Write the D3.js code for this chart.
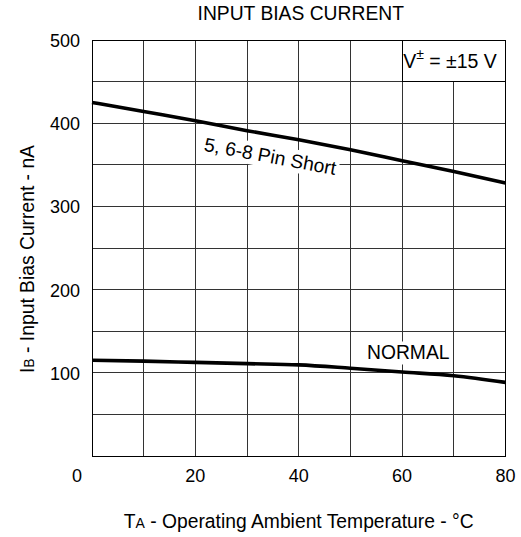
<!DOCTYPE html>
<html>
<head>
<meta charset="utf-8">
<script src="https://cdn.jsdelivr.net/npm/d3@7"></script>
<style>
  body { margin: 0; background: #fff; }
  svg { display: block; font-family: "Liberation Sans", Arial, sans-serif; }
</style>
</head>
<body>
<svg id="chart" width="521" height="537"></svg>
<script>
const temps = [0, 10, 20, 30, 40, 50, 60, 70, 80]
const pinShort = [425, 414, 403, 391, 380, 368, 355, 342, 328]
const normal = [115, 114, 112.5, 111, 109.5, 105.5, 101, 96.5, 88.5]
const xTicks = [20, 40, 60, 80]
const yTicks = [0, 100, 200, 300, 400, 500]

function drawChart(){
  const svg = d3.select("#chart")
  const width = 521
  const margin = {top: 40, right: 15.5, bottom: 81, left: 92}
  const height = 537

  const x = d3.scaleLinear()
    .domain([0, 80])
    .range([margin.left, width - margin.right])

  const y = d3.scaleLinear()
    .domain([0, 500])
    .range([height - margin.bottom, margin.top])

  // grid
  const grid = svg.append("g")
    .attr("stroke", "#333")
    .attr("stroke-width", 1)
    .attr("shape-rendering", "crispEdges")

  grid.selectAll("line.v")
    .data(d3.range(10, 80, 10))
    .join("line")
    .attr("x1", d => x(d)).attr("x2", d => x(d))
    .attr("y1", y(0)).attr("y2", y(500))

  grid.selectAll("line.h")
    .data(d3.range(50, 500, 50))
    .join("line")
    .attr("x1", x(0)).attr("x2", x(80))
    .attr("y1", d => y(d)).attr("y2", d => y(d))

  // condition box in top right cell
  svg.append("rect")
    .attr("x", x(60)).attr("y", y(500))
    .attr("width", x(80) - x(60)).attr("height", y(450) - y(500))
    .attr("fill", "#fff").attr("stroke", "#000")
    .attr("shape-rendering", "crispEdges")

  const cond = svg.append("text")
    .attr("x", x(60) + 1).attr("y", y(500) + 28)
    .attr("font-size", 19.5)
  cond.append("tspan").text("V")
  cond.append("tspan").attr("font-size", 14).attr("dy", -9).text("\u00b1")
  cond.append("tspan").attr("dy", 9).text(" = \u00b115 V")

  // frame
  svg.append("rect")
    .attr("x", x(0)).attr("y", y(500))
    .attr("width", x(80) - x(0)).attr("height", y(0) - y(500))
    .attr("fill", "none").attr("stroke", "#000")
    .attr("shape-rendering", "crispEdges")

  const line = d3.line()
    .x((d, i) => x(temps[i]))
    .y(d => y(d))
    .curve(d3.curveMonotoneX)

  // curve labels on a white patch
  const label = (tx, ty, angle, txt) => {
    const g = svg.append("g")
      .attr("transform", `translate(${tx},${ty}) rotate(${angle})`)
    const t = g.append("text")
      .attr("font-size", 19.3)
      .attr("fill", "#000")
      .text(txt)
    const b = t.node().getBBox()
    g.insert("rect", "text")
      .attr("x", b.x - 2).attr("y", b.y - 1)
      .attr("width", b.width + 4).attr("height", b.height + 2)
      .attr("fill", "#fff")
  }

  label(x(21.5), y(367), 10.5, "5, 6-8 Pin Short")
  label(x(53.2), y(116), 0, "NORMAL")

  svg.append("path").datum(pinShort)
    .attr("fill", "none").attr("stroke", "#000")
    .attr("stroke-width", 3.6)
    .attr("d", line)

  svg.append("path").datum(normal)
    .attr("fill", "none").attr("stroke", "#000")
    .attr("stroke-width", 3.6)
    .attr("d", line)

  // y tick labels
  svg.append("g")
    .attr("font-size", 18)
    .attr("text-anchor", "end")
    .selectAll("text")
    .data(yTicks)
    .join("text")
    .attr("x", d => d === 0 ? margin.left - 10 : margin.left - 12)
    .attr("y", d => d === 0 ? y(0) + 26 : y(d) + 7)
    .text(d => d)

  // x tick labels
  svg.append("g")
    .attr("font-size", 18)
    .attr("text-anchor", "middle")
    .selectAll("text")
    .data(xTicks)
    .join("text")
    .attr("x", d => x(d))
    .attr("y", y(0) + 26)
    .text(d => d)

  // title
  svg.append("text")
    .attr("x", (x(0) + x(80)) / 2 + 2).attr("y", 20)
    .attr("text-anchor", "middle")
    .attr("font-size", 19.3)
    .text("INPUT BIAS CURRENT")

  // x axis title
  const xt = svg.append("text")
    .attr("x", (x(0) + x(80)) / 2).attr("y", 528)
    .attr("text-anchor", "middle")
    .attr("font-size", 19.3)
  xt.append("tspan").text("T")
  xt.append("tspan").attr("font-size", 14).text("A")
  xt.append("tspan").text(" - Operating Ambient Temperature - \u00b0C")

  // y axis title
  const yt = svg.append("text")
    .attr("transform", "translate(34,259) rotate(-90)")
    .attr("text-anchor", "middle")
    .attr("font-size", 19.3)
  yt.append("tspan").text("I")
  yt.append("tspan").attr("font-size", 14).text("B")
  yt.append("tspan").text(" - Input Bias Current - nA")
}

drawChart()
</script>
</body>
</html>
